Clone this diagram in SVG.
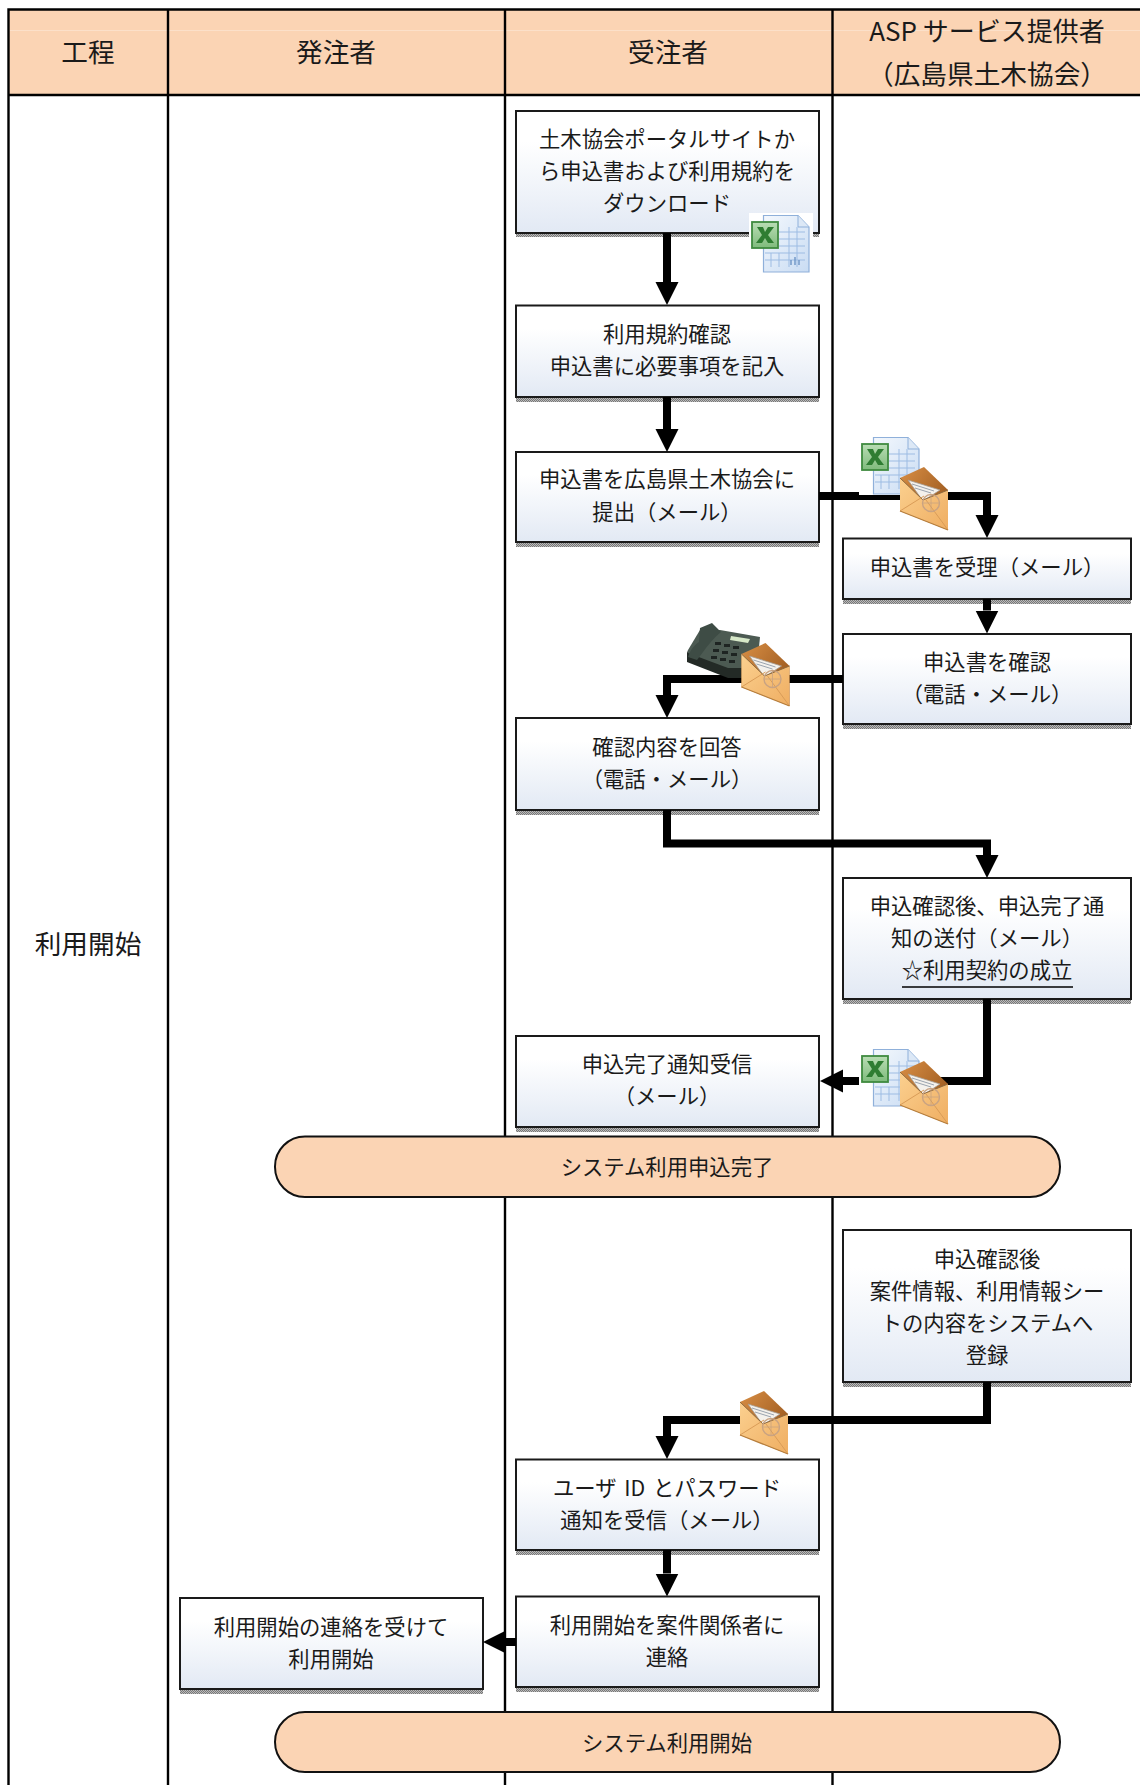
<svg xmlns="http://www.w3.org/2000/svg" width="1140" height="1785" viewBox="0 0 1140 1785">
<style>
text{font-family:"Noto Sans CJK JP","Noto Sans",sans-serif;fill:#1a1a1a;text-anchor:middle}
.t{font-size:21.33px}
.h{font-size:26.67px}
.box{fill:url(#boxfill);stroke:#1a1a1a;stroke-width:2}
.sh{fill:url(#hatch)}
.pill{fill:#FBD4B4;stroke:#111;stroke-width:2}
.grid{stroke:#000;stroke-width:2.4;fill:none}
.con{fill:none;stroke:#000;stroke-width:8;stroke-linejoin:miter;marker-end:url(#ah)}
</style>
<defs>
<linearGradient id="boxfill" x1="0" y1="0" x2="0" y2="1"><stop offset="0" stop-color="#fff"/><stop offset=".25" stop-color="#fff"/><stop offset="1" stop-color="#E2E9F4"/></linearGradient>
<pattern id="hatch" width="2" height="2" patternUnits="userSpaceOnUse"><rect width="2" height="2" fill="#bbb"/><rect width="1" height="1" fill="#777"/><rect x="1" y="1" width="1" height="1" fill="#777"/></pattern>
<marker id="ah" markerUnits="userSpaceOnUse" markerWidth="24" markerHeight="24" viewBox="0 0 24 24" refX="0" refY="12" orient="auto"><path d="M0 .5L23 12L0 23.5z" fill="#000"/></marker>
<linearGradient id="envf" x1="0" y1="0" x2="1" y2="1"><stop offset="0" stop-color="#FBD08F"/><stop offset="1" stop-color="#EFAE62"/></linearGradient>
<linearGradient id="flap" x1="0" y1="0" x2="1" y2="1"><stop offset="0" stop-color="#D98F45"/><stop offset="1" stop-color="#8A4A14"/></linearGradient>
<linearGradient id="doc" x1="0" y1="0" x2="1" y2="1"><stop offset="0" stop-color="#F4F8FD"/><stop offset="1" stop-color="#C9DCF3"/></linearGradient>
<linearGradient id="xl" x1="0" y1="0" x2="0" y2="1"><stop offset="0" stop-color="#B9DDB4"/><stop offset="1" stop-color="#7FBB7C"/></linearGradient>
<g id="env">
<path d="M0 11L24 0L48 23V63L0 44z" fill="url(#flap)"/>
<path d="M8 13L40 23L23 34z" fill="#F4F1EC" stroke="#A59C92" stroke-width=".8"/>
<path d="M12 17L34 24M15 21L31 26" stroke="#9AA3AE" stroke-width="1"/>
<path d="M0 11L23 33L48 23V63L0 44z" fill="url(#envf)"/>
<path d="M0 11L23 33L48 23" fill="none" stroke="#8E6A3E" stroke-width="1"/>
<path d="M0 44L24 29M48 63L26 33" fill="none" stroke="#D99C58" stroke-width="1"/>
<circle cx="31" cy="36" r="8.5" fill="none" stroke="#C9A382" stroke-width="1.4"/>
<path d="M23 36H39M31 28V44" stroke="#C9A382" stroke-width=".8"/>
<path d="M0 44L48 63" stroke="#B77F3E" stroke-width="1.2"/>
</g>
<g id="xls">
<rect width="64" height="60" fill="#fff"/>
<path d="M14.5 2.5H49L60 14V59H14.5z" fill="url(#doc)" stroke="#8FB0DA" stroke-width="1.2"/>
<path d="M49 2.5V14H60" fill="#DCE8F6" stroke="#8FB0DA" stroke-width="1"/>
<path d="M30 19H56M30 26H56M30 33H56M16 40H56M16 47H56M40 14V54M48 14V54M30 40V54M22 40V54" stroke="#9DBCE3" stroke-width="1" fill="none"/>
<path d="M42 52V47M46 52V44M50 52V47" stroke="#6E95C6" stroke-width="1.4"/>
<rect x="3" y="9" width="26" height="26" fill="url(#xl)" stroke="#3F8A3F" stroke-width="1.8"/>
<path d="M8 14H14L16 19L19 14H25L19 22L25 30H19L16 25L13 30H7L13 22z" fill="#2F7D32"/>
</g>
<g id="phone">
<path d="M33 8L73 15L72 25L54 55L41 54L1 39V28L13 8z" fill="#4C5A52"/>
<path d="M0 28V40L41 56L55 56L58 46L41 46L1 31z" fill="#232A26"/>
<path d="M12 20C6 24 3 29 1 35L10 38C15 32 22 20 34 10L25 1L13 6z" fill="#3E4C45"/>
<path d="M44 14L63 17L61 21L43 18z" fill="#D6E8C8"/>
<g fill="#1E2422"><rect x="28" y="20" width="6" height="3"/><rect x="37" y="22" width="6" height="3"/><rect x="46" y="24" width="6" height="3"/><rect x="26" y="27" width="6" height="3"/><rect x="35" y="29" width="6" height="3"/><rect x="44" y="31" width="6" height="3"/><rect x="24" y="34" width="6" height="3"/><rect x="33" y="36" width="6" height="3"/><rect x="42" y="38" width="6" height="3"/></g>
</g>
</defs>
<rect width="1140" height="1785" fill="#fff"/>
<g id="table">
<rect x="9" y="10" width="1131" height="85" fill="#FBD4B4"/>
<path d="M9 30.5H1140" stroke="#FCE0C9" stroke-width="1"/>
<path class="grid" d="M8.5 1785V9.5H1140M8 95H1140M168 9V1785M505 9V1785M832.5 9V1785"/>
<g id="header-process"><text class="h" x="88" y="62">工程</text></g>
<g id="header-client"><text class="h" x="336" y="62">発注者</text></g>
<g id="header-contractor"><text class="h" x="668" y="62">受注者</text></g>
<g id="header-asp"><text class="h" x="987" y="41" style="font-size:26px">ASP サービス提供者</text><text class="h" x="987" y="84">（広島県土木協会）</text></g>
<g id="stage"><text class="h" x="88" y="954">利用開始</text></g>
</g>
<g id="n1"><rect class="sh" x="516" y="233" width="303" height="4"/><rect class="box" x="516" y="111" width="303" height="122"/><text class="t" x="667" y="147">土木協会ポータルサイトか</text><text class="t" x="667" y="179">ら申込書および利用規約を</text><text class="t" x="667" y="211">ダウンロード</text></g>
<g id="n2"><rect class="sh" x="516" y="398" width="303" height="4"/><rect class="box" x="516" y="305.5" width="303" height="91.5"/><text class="t" x="667" y="341.5">利用規約確認</text><text class="t" x="667" y="373.5">申込書に必要事項を記入</text></g>
<g id="n3"><rect class="sh" x="516" y="543" width="303" height="4"/><rect class="box" x="516" y="452" width="303" height="90"/><text class="t" x="667" y="487">申込書を広島県土木協会に</text><text class="t" x="667" y="520">提出（メール）</text></g>
<g id="n4"><rect class="sh" x="843" y="600" width="288" height="4"/><rect class="box" x="843" y="538.5" width="288" height="60.5"/><text class="t" x="987" y="574.5">申込書を受理（メール）</text></g>
<g id="n5"><rect class="sh" x="843" y="725" width="288" height="4"/><rect class="box" x="843" y="634" width="288" height="90"/><text class="t" x="987" y="669.5">申込書を確認</text><text class="t" x="987" y="701.5">（電話・メール）</text></g>
<g id="n6"><rect class="sh" x="516" y="811" width="303" height="4"/><rect class="box" x="516" y="718" width="303" height="92"/><text class="t" x="667" y="755">確認内容を回答</text><text class="t" x="667" y="787">（電話・メール）</text></g>
<g id="n7"><rect class="sh" x="843" y="1000" width="288" height="4"/><rect class="box" x="843" y="878" width="288" height="121"/><text class="t" x="987" y="914">申込確認後、申込完了通</text><text class="t" x="987" y="946">知の送付（メール）</text><text class="t" x="987" y="978">☆利用契約の成立</text><path d="M902 987H1073" stroke="#000" stroke-width="1.6"/></g>
<g id="n8"><rect class="sh" x="516" y="1128" width="303" height="4"/><rect class="box" x="516" y="1036" width="303" height="91"/><text class="t" x="667" y="1071.5">申込完了通知受信</text><text class="t" x="667" y="1103.5">（メール）</text></g>
<g id="p1"><rect class="pill" x="275" y="1136.5" width="785" height="60.5" rx="30" ry="30"/><text class="t" x="667" y="1175">システム利用申込完了</text></g>
<g id="n9"><rect class="sh" x="843" y="1383" width="288" height="4"/><rect class="box" x="843" y="1230" width="288" height="152"/><text class="t" x="987" y="1267">申込確認後</text><text class="t" x="987" y="1299">案件情報、利用情報シー</text><text class="t" x="987" y="1331">トの内容をシステムへ</text><text class="t" x="987" y="1363">登録</text></g>
<g id="n10"><rect class="sh" x="516" y="1551" width="303" height="4"/><rect class="box" x="516" y="1459.5" width="303" height="90.5"/><text class="t" x="667" y="1496" style="word-spacing:3px">ユーザ ID とパスワード</text><text class="t" x="667" y="1528">通知を受信（メール）</text></g>
<g id="n11"><rect class="sh" x="516" y="1688" width="303" height="4"/><rect class="box" x="516" y="1596.5" width="303" height="90.5"/><text class="t" x="667" y="1632.5">利用開始を案件関係者に</text><text class="t" x="667" y="1664.5">連絡</text></g>
<g id="n12"><rect class="sh" x="180" y="1690" width="303" height="4"/><rect class="box" x="180" y="1598" width="303" height="91"/><text class="t" x="331" y="1635">利用開始の連絡を受けて</text><text class="t" x="331" y="1667">利用開始</text></g>
<g id="p2"><rect class="pill" x="275" y="1712" width="785" height="60" rx="30" ry="30"/><text class="t" x="667" y="1751">システム利用開始</text></g>
<g id="connectors">
<path class="con" d="M667 233V282"/>
<path class="con" d="M667 397V429"/>
<path class="con" d="M819 496H987V515"/>
<path class="con" d="M987 599V610.5"/>
<path class="con" d="M843 679H667V695"/>
<path class="con" d="M667 810V843.5H987V855"/>
<path class="con" d="M987 999V1081H843"/>
<path class="con" d="M987 1382V1420H667V1436"/>
<path class="con" d="M667 1550V1573.5"/>
<path class="con" d="M516 1642H506"/>
</g>
<g id="icons">
<use href="#xls" x="749" y="213"/>
<use href="#xls" x="859" y="435"/>
<use href="#env" x="900" y="467"/>
<use href="#phone" x="687" y="622"/>
<use href="#env" x="741.5" y="643"/>
<use href="#xls" x="859" y="1047"/>
<use href="#env" x="900" y="1061"/>
<use href="#env" x="740" y="1391"/>
</g>
</svg>
